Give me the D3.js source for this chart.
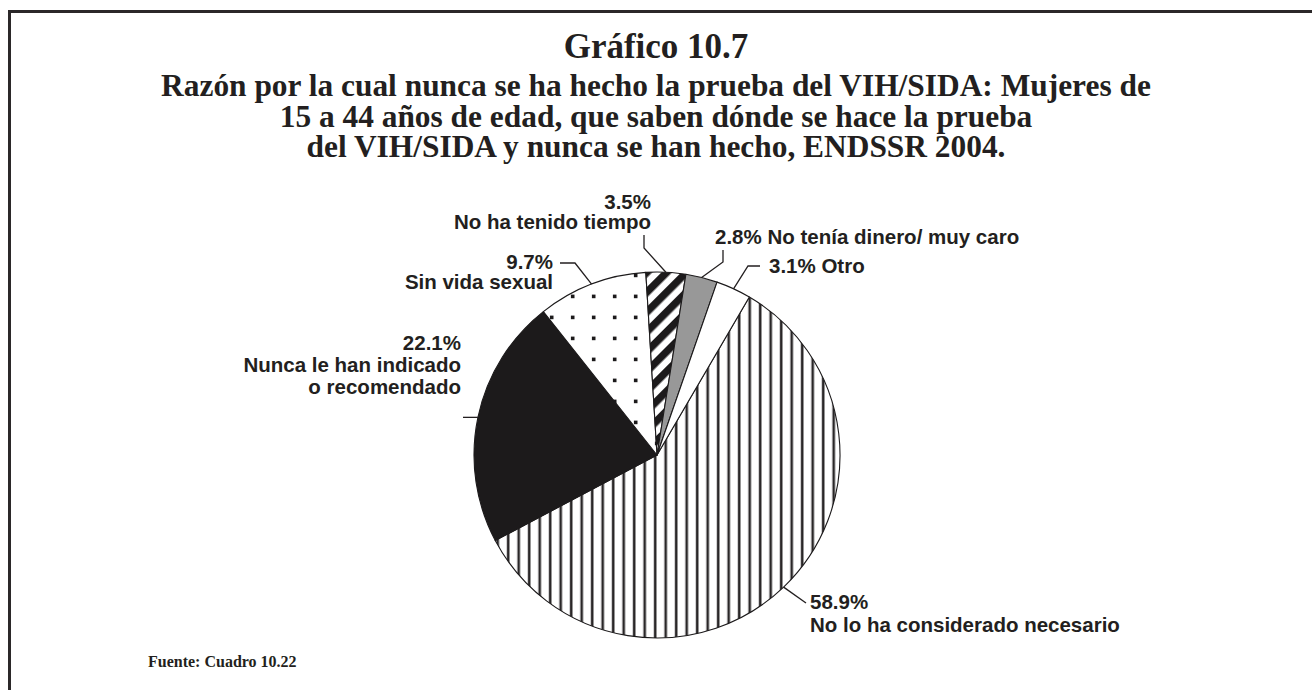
<!DOCTYPE html>
<html lang="es">
<head>
<meta charset="utf-8">
<script src="https://cdn.jsdelivr.net/npm/d3@7"></script>
<style>
  html, body { margin: 0; padding: 0; background: #fff; }
  svg { display: block; }
  .title { font-family: "Liberation Serif", "Times New Roman", serif; font-weight: bold; fill: #231f20; }
  .lbl { font-family: "Liberation Sans", Arial, Helvetica, sans-serif; font-weight: bold; fill: #231f20; }
</style>
</head>
<body>
<svg id="chart" width="1312" height="690"></svg>
<script>
// Razones por las que nunca se ha hecho la prueba (porcentajes)
const categories = [
  "No lo ha considerado necesario",
  "Nunca le han indicado o recomendado",
  "Sin vida sexual",
  "No ha tenido tiempo",
  "No tenía dinero/ muy caro",
  "Otro"
];
const values = [58.9, 22.1, 9.7, 3.5, 2.8, 3.1];
const fills = ["url(#vstripes)", "#1c1a1b", "url(#dots)", "url(#diag)", "#989898", "#ffffff"];

const titleLines = [
  "Razón por la cual nunca se ha hecho la prueba del VIH/SIDA: Mujeres de",
  "15 a 44 años de edad, que saben dónde se hace la prueba",
  "del VIH/SIDA y nunca se han hecho, ENDSSR 2004."
];
const chartNumber = "Gráfico 10.7";
const sourceNote = "Fuente: Cuadro 10.22";

// Label layout: text lines, anchor and leader path for each slice
const labelLayout = [
  { lines: d => [d + "%", categories[0]], x: 810, y: [609, 632], anchor: "start", leader: [[806, 603]] },
  { lines: d => [d + "%", "Nunca le han indicado", "o recomendado"], x: 461, y: [350, 372, 394], anchor: "end", leader: "horizontal", leaderEnd: 463 },
  { lines: d => [d + "%", categories[2]], x: 553, y: [269, 289], anchor: "end", leader: [[575, 263], [560, 263]] },
  { lines: d => [d + "%", categories[3]], x: 651, y: [209, 229], anchor: "end", leader: [[644, 248], [644, 235]] },
  { lines: d => [d + "% " + categories[4]], x: 715, y: [244], anchor: "start", leader: [[723, 262], [723, 250]] },
  { lines: d => [d + "% " + categories[5]], x: 769, y: [273], anchor: "start", leader: [[748, 266], [760, 266]] }
];

const svg = d3.select("#chart");
const cx = 657, cy = 455, r = 183;

// Hatch patterns
const defs = svg.append("defs");
const pv = defs.append("pattern").attr("id", "vstripes").attr("patternUnits", "userSpaceOnUse")
  .attr("width", 10.5).attr("height", 10);
pv.append("rect").attr("width", 10.5).attr("height", 10).attr("fill", "#fff");
pv.append("rect").attr("x", 7.4).attr("width", 2.6).attr("height", 10).attr("fill", "#2a2728");

const pd = defs.append("pattern").attr("id", "dots").attr("patternUnits", "userSpaceOnUse")
  .attr("width", 21).attr("height", 21);
pd.append("rect").attr("width", 21).attr("height", 21).attr("fill", "#fff");
pd.append("rect").attr("x", 18.9).attr("y", 7.6).attr("width", 3.6).attr("height", 3.6).attr("fill", "#1c1a1b");
pd.append("rect").attr("x", -2.1).attr("y", 7.6).attr("width", 3.6).attr("height", 3.6).attr("fill", "#1c1a1b");

const pg = defs.append("pattern").attr("id", "diag").attr("patternUnits", "userSpaceOnUse")
  .attr("width", 14).attr("height", 14).attr("patternTransform", "rotate(45)");
pg.append("rect").attr("width", 14).attr("height", 14).attr("fill", "#fff");
pg.append("rect").attr("width", 7.5).attr("height", 14).attr("fill", "#1c1a1b");

// Frame
svg.append("rect").attr("x", 9.5).attr("y", 11.5).attr("width", 1400).attr("height", 800)
  .attr("fill", "none").attr("stroke", "#2b2829").attr("stroke-width", 3);

// Titles
svg.append("text").attr("class", "title").attr("x", 656).attr("y", 58)
  .attr("text-anchor", "middle").attr("font-size", 35).text(chartNumber);
svg.append("g").selectAll("text").data(titleLines).join("text")
  .attr("class", "title").attr("x", 656).attr("y", (d, i) => 96 + i * 30.5)
  .attr("text-anchor", "middle").attr("font-size", 31.4).text(d => d);

// Pie
const startA = 30.3 * Math.PI / 180;
const pie = d3.pie().sort(null).value(d => d).startAngle(startA).endAngle(startA + 2 * Math.PI);
const arcs = pie(values);
const arc = d3.arc().innerRadius(0).outerRadius(r);
const edge = d3.arc().innerRadius(r).outerRadius(r);

const g = svg.append("g").attr("transform", `translate(${cx},${cy})`);
g.selectAll("path").data(arcs).join("path")
  .attr("d", arc)
  .attr("fill", (d, i) => fills[i])
  .attr("stroke", "#1c1a1b").attr("stroke-width", 1.1).attr("stroke-linejoin", "round");

// Leaders and labels
const lineGen = d3.line();
arcs.forEach((a, i) => {
  const L = labelLayout[i];
  const c = edge.centroid(a);
  const p0 = [cx + c[0], cy + c[1]];
  const pts = L.leader === "horizontal" ? [p0, [L.leaderEnd, p0[1]]] : [p0, ...L.leader];
  svg.append("path").attr("d", lineGen(pts))
    .attr("fill", "none").attr("stroke", "#231f20").attr("stroke-width", 1.3);
  const t = svg.append("text").attr("class", "lbl").attr("font-size", 20.5)
    .attr("text-anchor", L.anchor);
  L.lines(values[i]).forEach((s, k) => {
    t.append("tspan").attr("x", L.x).attr("y", L.y[k]).text(s);
  });
});

// Source
svg.append("text").attr("class", "title").attr("x", 148).attr("y", 667)
  .attr("font-size", 16).text(sourceNote);
</script>
</body>
</html>
